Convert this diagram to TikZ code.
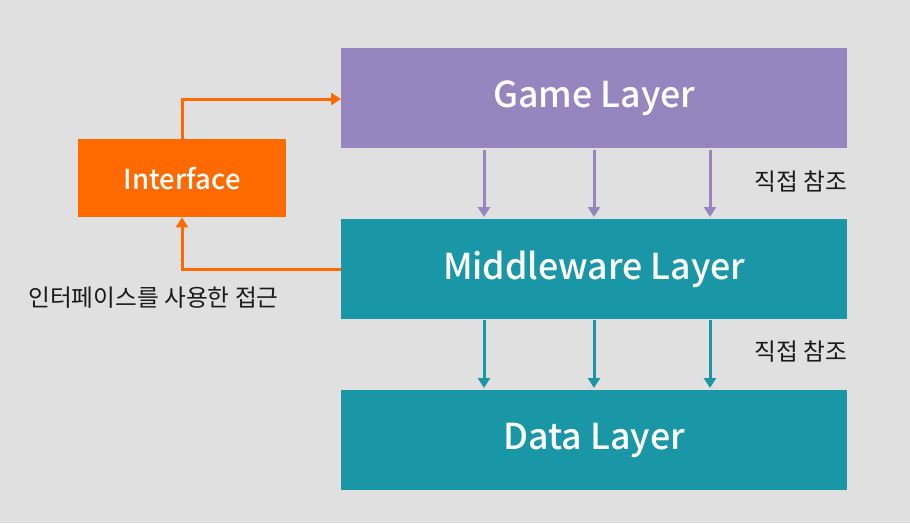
\documentclass[tikz,border=0pt]{standalone}
\usepackage{fontspec}
\setmainfont{Noto Sans CJK KR}
\newfontfamily\medfont{Noto Sans CJK KR Medium}
\usetikzlibrary{arrows.meta}
\definecolor{bg}{HTML}{E0E0E0}
\definecolor{gamec}{HTML}{9685BF}
\definecolor{tealc}{HTML}{1A97A6}
\definecolor{orangec}{HTML}{FF6A00}
\definecolor{txt}{HTML}{1A1A1A}
\begin{document}
\begin{tikzpicture}[x=1pt,y=-1pt,
  layer/.style={draw=none,minimum width=506pt,minimum height=100pt,anchor=north west,inner sep=0pt,text=white,font=\medfont\fontsize{35.7}{40}\selectfont},
  arr/.style={line width=3pt,-{Triangle[width=12pt,length=10pt]}},
  note/.style={text=txt,font=\fontsize{23.7}{28}\selectfont,inner sep=0pt}]
\fill[bg] (0,0) rectangle (910,523);
\useasboundingbox (0,0) rectangle (910,523);
\node[layer,fill=gamec] (game) at (341,48) {\raisebox{-5pt}{Game Layer}};
\node[layer,fill=tealc] (mid) at (341,219) {\raisebox{-5pt}{Middleware Layer}};
\node[layer,fill=tealc] (data) at (341,390) {\raisebox{-5pt}{Data Layer}};
\node[fill=orangec,minimum width=208pt,minimum height=78pt,anchor=north west,inner sep=0pt,text=white,font=\medfont\fontsize{27.5}{32}\selectfont] (iface) at (78,139) {\raisebox{-3pt}{Interface}};
\foreach \x in {484,594,710}{
  \draw[arr,gamec] (\x,150) -- (\x,217);
  \draw[arr,tealc] (\x,320) -- (\x,388);
}
\coordinate (c1) at (182,99);
\coordinate (c2) at (182,269);
\draw[arr,orangec] (iface.north -| c1) -- (c1) -- (game.west |- c1);
\draw[arr,orangec] (mid.west |- c2) -- (c2) -- (iface.south -| c2);
\node[note,anchor=east] (n1) at (847,182) {직접 참조};
\node[note,anchor=east] (n2) at (847,352) {직접 참조};
\node[note,anchor=west] (n3) at (28,298) {인터페이스를 사용한 접근};
\end{tikzpicture}
\end{document}
